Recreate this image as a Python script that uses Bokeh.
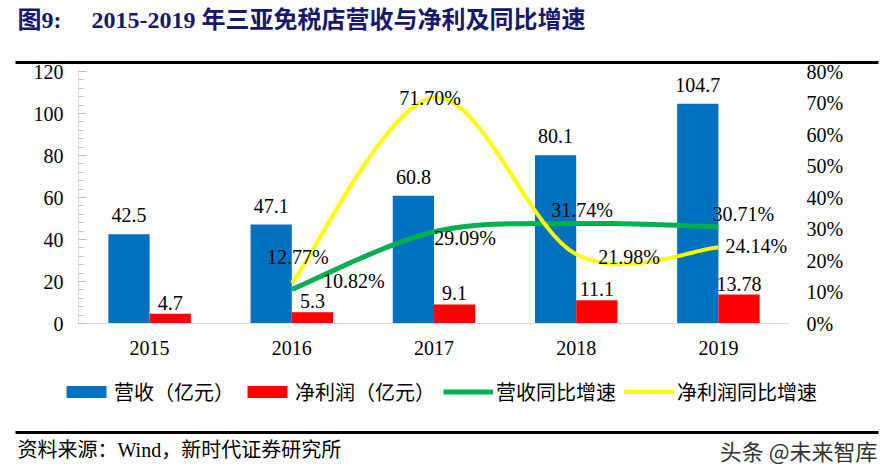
import numpy as np
from bokeh.plotting import figure
from bokeh.layouts import column
from bokeh.models import (Range1d, LinearAxis, FixedTicker, ColumnDataSource, LabelSet, Label,
                          Legend, LegendItem, BoxAnnotation, PrintfTickFormatter)
from bokeh.core.properties import value
from bokeh.embed import file_html
from bokeh.resources import INLINE

# ---------------- data ----------------
years = ["2015", "2016", "2017", "2018", "2019"]
revenue = [42.5, 47.1, 60.8, 80.1, 104.7]          # 营收（亿元）
net_profit = [4.7, 5.3, 9.1, 11.1, 13.78]          # 净利润（亿元）
growth_years = ["2016", "2017", "2018", "2019"]
revenue_yoy = [10.82, 29.09, 31.74, 30.71]         # 营收同比增速 (%)
profit_yoy = [12.77, 71.70, 21.98, 24.14]          # 净利润同比增速 (%)
left_ticks = [0, 20, 40, 60, 80, 100, 120]
right_ticks = [0, 10, 20, 30, 40, 50, 60, 70, 80]
series_names = ["营收（亿元）", "净利润（亿元）", "营收同比增速", "净利润同比增速"]

# label placement (screen px offsets from point: dx right, dy up)
rev_yoy_off = [(62, 8), (31, -6), (6, 14), (25, 13)]
pro_yoy_off = [(6, 26), (-4, 0), (53, -3), (38, 1)]

# ---------------- style ----------------
BLUE, RED, GREEN, YELLOW = "#0070C0", "#FF0000", "#00B050", "#FFFF00"
NUM_S = "Liberation Serif"
MIX_S = "Liberation Serif, Noto Sans CJK SC"
CJK_S = "Noto Sans CJK SC"
AXIS_GRAY = "#D9D9D9"

W = 885
TH, LH, BH = 70, 50, 56             # title / legend / footer strip heights
OVER = 16                           # main chart overlaps title strip (transparent)
MTOP = TH - OVER                    # page y where main chart starts
MH = 370 - MTOP                     # main chart height (ends at page y 370)
FL, FR, FT, FB = 78, 789, 71, 323   # main frame edges in page px


def smooth(xs, ys, n=40):
    px = [xs[0]] + list(xs) + [xs[-1]]
    py = [ys[0]] + list(ys) + [ys[-1]]
    ox, oy = [], []
    t = np.linspace(0, 1, n)
    for k in range(len(xs) - 1):
        i = k + 1
        p0 = np.array([px[i], py[i]], float)
        p3 = np.array([px[i + 1], py[i + 1]], float)
        c1 = p0 + (np.array([px[i + 1], py[i + 1]]) - np.array([px[i - 1], py[i - 1]])) / 6.0
        c2 = p3 - (np.array([px[i + 2], py[i + 2]]) - np.array([px[i], py[i]])) / 6.0
        b = ((1 - t) ** 3)[:, None] * p0 + (3 * (1 - t) ** 2 * t)[:, None] * c1 \
            + (3 * (1 - t) * t ** 2)[:, None] * c2 + (t ** 3)[:, None] * p3
        if k > 0:
            b = b[1:]
        ox.extend(b[:, 0]); oy.extend(b[:, 1])
    return ox, oy


def plain(height, y0):
    f = figure(width=W, height=height, output_backend="svg", toolbar_location=None,
               x_range=Range1d(0, W), y_range=Range1d(y0 + height, y0),
               min_border=0, x_axis_location=None, y_axis_location=None,
               frame_align=False)
    f.outline_line_color = None
    f.grid.visible = False
    f.border_fill_color = "white"
    f.background_fill_color = "white"
    return f


# ---------------- title strip ----------------
TITLE_C = "#17176B"
pt = plain(TH, 0)
pt.add_layout(Label(x=17, y=19, text="图9:", text_font=MIX_S, text_font_size="24px",
                    text_font_style="bold", text_color=TITLE_C, text_baseline="middle"))
pt.add_layout(Label(x=91, y=19, text="2015-2019 年三亚免税店营收与净利及同比增速",
                    text_font=MIX_S, text_font_size="24px", text_font_style="bold",
                    text_color=TITLE_C, text_baseline="middle"))
pt.add_layout(BoxAnnotation(left=15, right=878, top=60.5, bottom=63.5,
                            fill_color="black", fill_alpha=1, line_color=None))

# ---------------- main chart ----------------
p = figure(width=W, height=MH, output_backend="svg", toolbar_location=None,
           x_range=Range1d(-0.5, len(years) - 0.5), y_range=Range1d(0, 120),
           min_border_left=FL, min_border_right=W - FR,
           min_border_top=FT - MTOP, min_border_bottom=MTOP + MH - FB,
           frame_align=False, margin=(-OVER, 0, 0, 0))
p.outline_line_color = None
p.grid.visible = False
p.background_fill_alpha = 0
p.border_fill_alpha = 0
p.extra_y_ranges = {"pct": Range1d(0, 80)}

idx = list(range(len(years)))
bw = 0.29
src = ColumnDataSource(dict(
    xb=[i - bw / 2 for i in idx], xr=[i + bw / 2 for i in idx],
    rev=revenue, pro=net_profit,
    rev_t=[str(v) for v in revenue], pro_t=[str(v) for v in net_profit]))

p.vbar(x="xb", top="rev", width=bw, source=src, fill_color=BLUE, line_color=None)
p.vbar(x="xr", top="pro", width=bw, source=src, fill_color=RED, line_color=None)

gx = [years.index(y) for y in growth_years]
lx, ly = smooth(gx, revenue_yoy)
p.line(lx, ly, y_range_name="pct", line_color=GREEN, line_width=5)
yx, yy = smooth(gx, profit_yoy)
p.line(yx, yy, y_range_name="pct", line_color=YELLOW, line_width=4)

p.add_layout(LabelSet(x="xb", y="rev", text="rev_t", source=src, y_offset=12,
                      text_align="center", text_baseline="alphabetic",
                      text_font=value(NUM_S), text_font_size="20px", text_color="black"))
p.add_layout(LabelSet(x="xr", y="pro", text="pro_t", source=src, y_offset=4,
                      text_align="center", text_baseline="alphabetic",
                      text_font=value(NUM_S), text_font_size="20px", text_color="black"))

for vals, offs in ((revenue_yoy, rev_yoy_off), (profit_yoy, pro_yoy_off)):
    s = ColumnDataSource(dict(x=gx, y=vals, t=[f"{v:.2f}%" for v in vals],
                              dx=[o[0] for o in offs], dy=[o[1] for o in offs]))
    p.add_layout(LabelSet(x="x", y="y", text="t", source=s, y_range_name="pct",
                          x_offset="dx", y_offset="dy", text_align="center",
                          text_baseline="middle", text_font=value(NUM_S),
                          text_font_size="20px", text_color="black"))

ya = p.yaxis[0]
ya.ticker = FixedTicker(ticks=left_ticks, minor_ticks=list(range(0, 121, 4)))
ya.axis_line_color = AXIS_GRAY
ya.major_tick_line_color = "#BFBFBF"
ya.minor_tick_line_color = "#BFBFBF"
ya.major_tick_in = 8
ya.major_tick_out = 0
ya.minor_tick_in = 5
ya.minor_tick_out = 0
ya.major_label_standoff = 15
ya.major_label_text_font = NUM_S
ya.major_label_text_font_size = "20px"
ya.major_label_text_color = "black"

xa = p.xaxis[0]
xa.ticker = FixedTicker(ticks=idx)
xa.major_label_overrides = {i: y for i, y in zip(idx, years)}
xa.axis_line_color = AXIS_GRAY
xa.major_tick_line_color = None
xa.minor_tick_line_color = None
xa.major_tick_in = 0
xa.major_tick_out = 0
xa.major_label_standoff = 17
xa.major_label_text_font = NUM_S
xa.major_label_text_font_size = "20px"
xa.major_label_text_color = "black"

ra = LinearAxis(y_range_name="pct", ticker=FixedTicker(ticks=right_ticks),
                formatter=PrintfTickFormatter(format="%d%%"))
ra.axis_line_color = None
ra.major_tick_line_color = None
ra.minor_tick_line_color = None
ra.major_tick_in = 0
ra.major_tick_out = 0
ra.major_label_standoff = 17
ra.major_label_text_font = NUM_S
ra.major_label_text_font_size = "20px"
ra.major_label_text_color = "black"
p.add_layout(ra, "right")

# ---------------- legend strip (swatch proxies sit outside the view) ----------------
pl = plain(LH, 370)
k1 = pl.vbar(x=[-50], top=[0], width=1, fill_color=BLUE, line_color=None)
k2 = pl.vbar(x=[-50], top=[0], width=1, fill_color=RED, line_color=None)
k3 = pl.line(x=[-60, -50], y=[0, 0], line_color=GREEN, line_width=5)
k4 = pl.line(x=[-60, -50], y=[0, 0], line_color=YELLOW, line_width=4)
legend = Legend(items=[LegendItem(label=n, renderers=[r])
                       for n, r in zip(series_names, [k1, k2, k3, k4])],
                orientation="horizontal", location=(61, 14),
                border_line_color=None, background_fill_alpha=0, padding=0, margin=0,
                spacing=8, label_standoff=3, glyph_width=50, glyph_height=15,
                label_text_font=CJK_S, label_text_font_size="20px", label_text_color="black")
pl.add_layout(legend)

# ---------------- footer strip ----------------
pf = plain(BH, 370 + LH)
pf.add_layout(BoxAnnotation(left=15, right=878, top=430.5, bottom=433.5,
                            fill_color="black", fill_alpha=1, line_color=None))
pf.add_layout(Label(x=17, y=449, text="资料来源：Wind，新时代证券研究所", text_font=MIX_S,
                    text_font_size="20px", text_color="black", text_baseline="middle"))
pf.add_layout(Label(x=877, y=449, text="头条 @未来智库", text_font=CJK_S,
                    text_font_size="22px", text_color="#333333", text_align="right",
                    text_baseline="middle"))

layout = column(pt, p, pl, pf, spacing=0)
open("out.html", "w").write(file_html(layout, INLINE))
